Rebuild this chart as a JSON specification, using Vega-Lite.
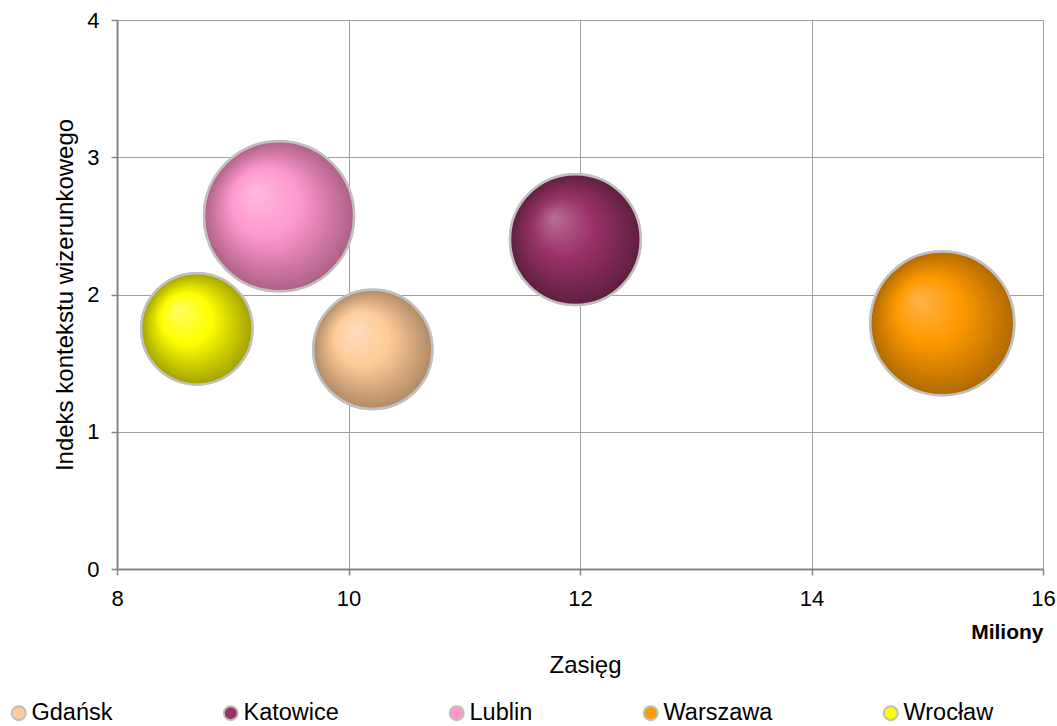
{
  "$schema": "https://vega.github.io/schema/vega-lite/v6.json",
  "width": 926,
  "height": 549,
  "autosize": {"type": "none"},
  "padding": {"left": 117, "top": 20, "right": 14, "bottom": 157},
  "background": "white",
  "config": {
    "font": "Liberation Sans",
    "view": {"stroke": null}
  },
  "data": {
    "values": [
      {"miasto": "Gdańsk", "zasieg": 10.21, "indeks": 1.60, "wielkosc": 0.63},
      {"miasto": "Katowice", "zasieg": 11.96, "indeks": 2.40, "wielkosc": 0.76},
      {"miasto": "Lublin", "zasieg": 9.40, "indeks": 2.57, "wielkosc": 1.0},
      {"miasto": "Warszawa", "zasieg": 15.13, "indeks": 1.79, "wielkosc": 0.92},
      {"miasto": "Wrocław", "zasieg": 8.69, "indeks": 1.75, "wielkosc": 0.55}
    ]
  },
  "resolve": {"axis": {"x": "independent"}},
  "encoding": {
    "y": {
      "field": "indeks",
      "type": "quantitative",
      "scale": {"domain": [0, 4], "nice": false},
      "axis": {
        "values": [0, 1, 2, 3, 4],
        "title": "Indeks kontekstu wizerunkowego",
        "titleFontSize": 24,
        "titleFontWeight": "normal",
        "titleColor": "black",
        "titlePadding": 9,
        "labelFontSize": 22,
        "labelColor": "black",
        "labelPadding": 12,
        "labelFlush": false,
        "tickSize": 6,
        "tickColor": "#868686",
        "tickWidth": 1.5,
        "domainColor": "#868686",
        "domainWidth": 2,
        "gridColor": "#a0a0a0",
        "gridWidth": 1
      }
    },
    "size": {
      "field": "wielkosc",
      "type": "quantitative",
      "scale": {"domain": [0, 1], "range": [0, 22500]},
      "legend": null
    }
  },
  "layer": [
    {
      "mark": {"type": "point", "shape": "circle", "filled": true, "opacity": 1, "stroke": "#c0c0c0", "strokeWidth": 2.5},
      "encoding": {
        "x": {
          "field": "zasieg",
          "type": "quantitative",
          "scale": {"domain": [8, 16], "nice": false, "zero": false},
          "axis": {
            "values": [8, 10, 12, 14, 16],
            "title": "Zasięg",
            "titleFontSize": 24,
            "titleFontWeight": "normal",
            "titleColor": "black",
            "titlePadding": 44,
            "titleX": 468,
            "labelFontSize": 22,
            "labelColor": "black",
            "labelPadding": 13,
            "labelFlush": false,
            "tickSize": 6,
            "tickColor": "#868686",
            "tickWidth": 1.5,
            "domainColor": "#868686",
            "domainWidth": 2,
            "gridColor": "#a0a0a0",
            "gridWidth": 1
          }
        },
        "color": {
          "field": "miasto",
          "type": "nominal",
          "scale": {
            "domain": ["Gdańsk", "Katowice", "Lublin", "Warszawa", "Wrocław"],
            "range": ["#ffcc99", "#993366", "#ff99cc", "#ff9900", "#ffff00"]
          },
          "legend": {
            "orient": "none",
            "legendX": -110,
            "legendY": 681,
            "direction": "horizontal",
            "columns": 5,
            "columnPadding": 106,
            "title": null,
            "symbolType": "circle",
            "symbolSize": 196,
            "symbolStrokeColor": "#bfbfbf",
            "symbolStrokeWidth": 2,
            "symbolOpacity": 1,
            "labelFontSize": 23.5,
            "labelColor": "black",
            "labelOffset": 1,
            "labelLimit": 300
          }
        }
      }
    },
    {
      "transform": [{"filter": "datum.miasto === 'Gdańsk'"}],
      "mark": {"type": "point", "shape": "circle", "filled": true, "opacity": 1, "stroke": "#c0c0c0", "strokeWidth": 2.5,
        "fill": {"gradient": "radial", "x1": 0.33, "y1": 0.33, "r1": 0, "x2": 0.5, "y2": 0.5, "r2": 0.5,
          "stops": [{"offset": 0, "color": "#ffdcbc"}, {"offset": 0.45, "color": "#ffcc99"}, {"offset": 1, "color": "#b08a66"}]}},
      "encoding": {
        "x": {
          "field": "zasieg",
          "type": "quantitative",
          "scale": {"domain": [8, 16], "nice": false, "zero": false},
          "axis": {
            "orient": "bottom",
            "title": "Miliony",
            "titleAnchor": "end",
            "titleFontSize": 21,
            "titleFontWeight": "bold",
            "titleColor": "black",
            "titlePadding": 52,
            "labels": false,
            "ticks": false,
            "domain": false,
            "grid": false
          }
        }
      }
    },
    {
      "transform": [{"filter": "datum.miasto === 'Katowice'"}],
      "mark": {"type": "point", "shape": "circle", "filled": true, "opacity": 1, "stroke": "#c0c0c0", "strokeWidth": 2.5,
        "fill": {"gradient": "radial", "x1": 0.33, "y1": 0.33, "r1": 0, "x2": 0.5, "y2": 0.5, "r2": 0.5,
          "stops": [{"offset": 0, "color": "#b86f94"}, {"offset": 0.45, "color": "#993366"}, {"offset": 1, "color": "#5f1e3f"}]}},
      "encoding": {"x": {"field": "zasieg", "type": "quantitative", "scale": {"domain": [8, 16], "nice": false, "zero": false}, "axis": null}}
    },
    {
      "transform": [{"filter": "datum.miasto === 'Lublin'"}],
      "mark": {"type": "point", "shape": "circle", "filled": true, "opacity": 1, "stroke": "#c0c0c0", "strokeWidth": 2.5,
        "fill": {"gradient": "radial", "x1": 0.33, "y1": 0.33, "r1": 0, "x2": 0.5, "y2": 0.5, "r2": 0.5,
          "stops": [{"offset": 0, "color": "#ffbade"}, {"offset": 0.45, "color": "#ff99cc"}, {"offset": 1, "color": "#ae6088"}]}},
      "encoding": {"x": {"field": "zasieg", "type": "quantitative", "scale": {"domain": [8, 16], "nice": false, "zero": false}, "axis": null}}
    },
    {
      "transform": [{"filter": "datum.miasto === 'Warszawa'"}],
      "mark": {"type": "point", "shape": "circle", "filled": true, "opacity": 1, "stroke": "#c0c0c0", "strokeWidth": 2.5,
        "fill": {"gradient": "radial", "x1": 0.33, "y1": 0.33, "r1": 0, "x2": 0.5, "y2": 0.5, "r2": 0.5,
          "stops": [{"offset": 0, "color": "#ffb44a"}, {"offset": 0.45, "color": "#ff9900"}, {"offset": 1, "color": "#b06a00"}]}},
      "encoding": {"x": {"field": "zasieg", "type": "quantitative", "scale": {"domain": [8, 16], "nice": false, "zero": false}, "axis": null}}
    },
    {
      "transform": [{"filter": "datum.miasto === 'Wrocław'"}],
      "mark": {"type": "point", "shape": "circle", "filled": true, "opacity": 1, "stroke": "#c0c0c0", "strokeWidth": 2.5,
        "fill": {"gradient": "radial", "x1": 0.33, "y1": 0.33, "r1": 0, "x2": 0.5, "y2": 0.5, "r2": 0.5,
          "stops": [{"offset": 0, "color": "#ffff66"}, {"offset": 0.45, "color": "#ffff00"}, {"offset": 1, "color": "#a2a200"}]}},
      "encoding": {"x": {"field": "zasieg", "type": "quantitative", "scale": {"domain": [8, 16], "nice": false, "zero": false}, "axis": null}}
    }
  ]
}
